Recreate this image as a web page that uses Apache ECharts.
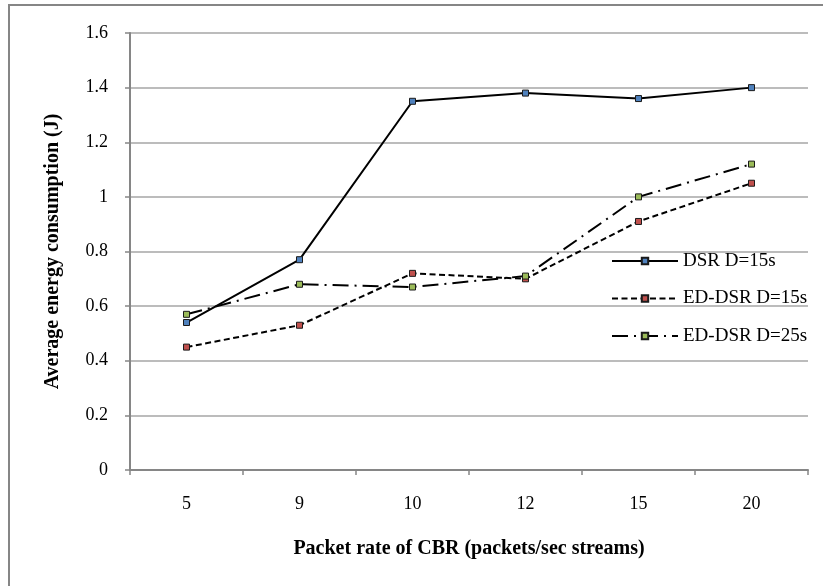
<!DOCTYPE html>
<html>
<head>
<meta charset="utf-8">
<script src="https://cdn.jsdelivr.net/npm/echarts@6/dist/echarts.min.js"></script>
<style>
  html, body { margin: 0; padding: 0; background: #fff; }
  #chart { width: 823px; height: 586px; }
</style>
</head>
<body>
<div id="chart"></div>
<script>
// packet rates (x categories)
const packetRates = ['5', '9', '10', '12', '15', '20'];

// average energy consumption (J)
const dsr15 = [0.54, 0.77, 1.35, 1.38, 1.36, 1.40];
const edDsr15 = [0.45, 0.53, 0.72, 0.70, 0.91, 1.05];
const edDsr25 = [0.57, 0.68, 0.67, 0.71, 1.00, 1.12];

const seriesNames = ['DSR D=15s', 'ED-DSR D=15s', 'ED-DSR D=25s'];

const font = '"Liberation Serif", "Times New Roman", serif';
const axisGray = '#868686';

function makeSeries(name, data, fill, dash) {
  return {
    name: name,
    type: 'line',
    data: data,
    symbol: 'rect',
    symbolSize: 6,
    showSymbol: true,
    animation: false,
    itemStyle: { color: fill, borderColor: '#1a1a1a', borderWidth: 1 },
    lineStyle: { color: '#000', width: 2, type: dash }
  };
}

const chart = echarts.init(document.getElementById('chart'));

chart.setOption({
  backgroundColor: '#fff',
  textStyle: { fontFamily: font },
  graphic: [{
    type: 'rect',
    shape: { x: 9, y: 5, width: 900, height: 700 },
    style: { fill: null, stroke: axisGray, lineWidth: 2 },
    silent: true
  }],
  grid: { left: 130, right: 15, top: 33, bottom: 116 },
  legend: {
    orient: 'vertical',
    left: 606,
    top: 246,
    itemWidth: 66,
    itemHeight: 8,
    itemGap: 17.5,
    data: seriesNames,
    textStyle: { fontFamily: font, fontSize: 19, lineHeight: 20, color: '#000' }
  },
  xAxis: {
    type: 'category',
    data: packetRates,
    boundaryGap: true,
    name: 'Packet rate of CBR (packets/sec streams)',
    nameLocation: 'middle',
    nameGap: 69,
    nameTextStyle: { fontFamily: font, fontSize: 20, fontWeight: 'bold', color: '#000' },
    axisLine: { lineStyle: { color: axisGray, width: 2 } },
    axisTick: { show: true, length: 5, lineStyle: { color: axisGray, width: 1.5 } },
    axisLabel: { fontFamily: font, fontSize: 18, color: '#000', margin: 25 },
    splitLine: { show: false }
  },
  yAxis: {
    type: 'value',
    min: 0,
    max: 1.6,
    interval: 0.2,
    name: 'Average energy consumption (J)',
    nameLocation: 'middle',
    nameGap: 67,
    nameRotate: 90,
    nameTextStyle: { fontFamily: font, fontSize: 20, fontWeight: 'bold', color: '#000' },
    axisLine: { show: true, lineStyle: { color: axisGray, width: 2 } },
    axisTick: { show: true, length: 5, lineStyle: { color: axisGray, width: 1.5 } },
    axisLabel: { fontFamily: font, fontSize: 18, color: '#000', margin: 22 },
    splitLine: { show: true, lineStyle: { color: '#a6a6a6', width: 1.5 } }
  },
  series: [
    makeSeries(seriesNames[0], dsr15, '#4f81bd', 'solid'),
    makeSeries(seriesNames[1], edDsr15, '#c0504d', [6, 3.5]),
    makeSeries(seriesNames[2], edDsr25, '#9bbb59', [16, 6, 2, 6])
  ]
});
</script>
</body>
</html>
